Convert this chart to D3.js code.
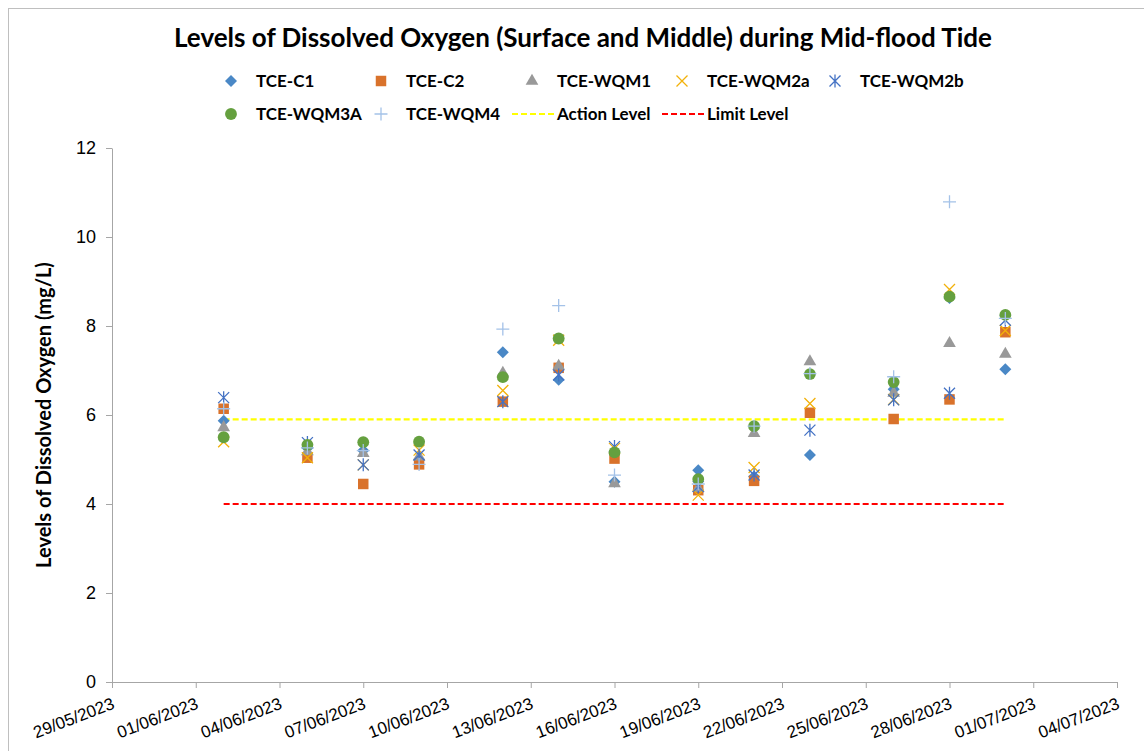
<!DOCTYPE html>
<html>
<head>
<meta charset="utf-8">
<script src="https://cdn.jsdelivr.net/npm/d3@7"></script>
<style>
  body { margin: 0; background: #fff; }
  svg { display: block; font-family: Lato, "Open Sans", sans-serif; }
</style>
</head>
<body>
<svg id="chart" width="1144" height="751"></svg>
<script>
// sampling dates
const dates = ["02/06/2023", "05/06/2023", "07/06/2023", "09/06/2023", "12/06/2023", "14/06/2023",
  "16/06/2023", "19/06/2023", "21/06/2023", "23/06/2023", "26/06/2023", "28/06/2023", "30/06/2023"];

// dissolved oxygen (mg/L) per station
const c1     = [5.87, 5.26, 5.20, 5.00, 7.41, 6.79, 4.50, 4.76, 4.62, 5.10, 6.58, 8.63, 7.03];
const c2     = [6.14, 5.04, 4.45, 4.89, 6.30, 7.06, 5.02, 4.31, 4.52, 6.05, 5.91, 6.35, 7.86];
const wqm1   = [5.72, 5.18, 5.14, 5.06, 6.94, 7.10, 4.46, 4.35, 5.59, 7.20, 6.49, 7.61, 7.37];
const wqm2a  = [5.40, 5.04, 4.88, 5.21, 6.55, 7.68, 5.25, 4.20, 4.82, 6.26, 6.35, 8.82, 7.90];
const wqm2b  = [6.39, 5.38, 4.88, 5.10, 6.30, 6.90, 5.29, 4.39, 4.65, 5.66, 6.34, 6.49, 8.13];
const wqm3a  = [5.50, 5.33, 5.39, 5.40, 6.85, 7.72, 5.16, 4.56, 5.75, 6.92, 6.74, 8.66, 8.25];
const wqm4   = [6.14, 5.26, 5.20, 4.89, 7.93, 8.46, 4.65, 4.45, 5.75, 6.93, 6.86, 10.79, 8.17];

const actionLevel = 5.9;
const limitLevel = 4;

const xDomain = ["29/05/2023", "04/07/2023"];
const yTicks = [0, 2, 4, 6, 8, 10, 12];

const seriesNames = ["TCE-C1", "TCE-C2", "TCE-WQM1", "TCE-WQM2a", "TCE-WQM2b", "TCE-WQM3A", "TCE-WQM4"];
const seriesValues = [c1, c2, wqm1, wqm2a, wqm2b, wqm3a, wqm4];

const parse = d3.timeParse("%d/%m/%Y");
const fmt = d3.timeFormat("%d/%m/%Y");

const svg = d3.select("#chart");

// outer chart border
svg.append("rect")
    .attr("x", 8.5).attr("y", 8.5)
    .attr("width", 1200).attr("height", 800)
    .style("fill", "none").style("stroke", "#bfbfbf").style("stroke-width", 1);

const plotLeft = 112, plotRight = 1117, plotTop = 148, plotBottom = 682;

const x = d3.scaleTime().domain(xDomain.map(parse)).range([plotLeft, plotRight]);
const y = d3.scaleLinear().domain([0, 12]).range([plotBottom, plotTop]);

// x ticks every 3 days starting at the domain start
const xTickVals = d3.timeDay.range(parse(xDomain[0]), d3.timeDay.offset(parse(xDomain[1]), 1), 3);

const xAxis = svg.append("g")
    .attr("transform", "translate(0," + plotBottom + ")")
    .call(d3.axisBottom(x).tickValues(xTickVals).tickFormat(fmt).tickSize(6).tickSizeOuter(0));
xAxis.selectAll(".domain, line").style("stroke", "#a6a6a6");
xAxis.selectAll("text")
    .style("font-size", "17px").style("fill", "#000")
    .attr("text-anchor", "end")
    .attr("dy", null).attr("y", null)
    .attr("transform", "translate(3,26) rotate(-21)");

const yAxis = svg.append("g")
    .attr("transform", "translate(" + plotLeft + ",0)")
    .call(d3.axisLeft(y).tickValues(yTicks).tickSize(6).tickSizeOuter(0));
yAxis.selectAll(".domain, line").style("stroke", "#a6a6a6");
yAxis.selectAll("text").style("font-size", "18px").style("fill", "#000").attr("x", -16);

// title
svg.append("text")
    .attr("x", 583).attr("y", 47)
    .attr("text-anchor", "middle")
    .style("font-size", "26px").style("font-weight", "bold")
    .text("Levels of Dissolved Oxygen (Surface and Middle) during Mid-flood Tide");

// y axis title
svg.append("text")
    .attr("transform", "translate(51," + ((plotTop + plotBottom) / 2) + ") rotate(-90)")
    .attr("text-anchor", "middle")
    .style("font-size", "20px").style("font-weight", "bold")
    .text("Levels of Dissolved Oxygen (mg/L)");

// reference lines
const firstDate = parse(dates[0]), lastDate = parse(dates[dates.length - 1]);
const refLine = d3.line().x(d => x(d[0])).y(d => y(d[1]));
svg.append("path")
    .datum([[firstDate, limitLevel], [lastDate, limitLevel]])
    .attr("d", refLine)
    .style("fill", "none").style("stroke", "#ff0000").style("stroke-width", 2.2)
    .style("stroke-dasharray", "6,3");
svg.append("path")
    .datum([[firstDate, actionLevel], [lastDate, actionLevel]])
    .attr("d", refLine)
    .style("fill", "none").style("stroke", "#ffff00").style("stroke-width", 2.2)
    .style("stroke-dasharray", "6,3");

// marker drawing
const diamondPath = "M0,-6L6,0L0,6L-6,0Z";
const crossPath = "M-5.5,-5.5L5.5,5.5M-5.5,5.5L5.5,-5.5";
const starPath = "M-5.5,-5.5L5.5,5.5M-5.5,5.5L5.5,-5.5M0,-6.5L0,6.5";
const plusPath = "M-6.5,0L6.5,0M0,-6.5L0,6.5";
const markers = [
  { type: "fill", sym: diamondPath, color: "#4a88c6" },
  { type: "fill", sym: d3.symbol(d3.symbolSquare, 110)(), color: "#d9722b" },
  { type: "fill", sym: d3.symbol(d3.symbolTriangle, 70)(), color: "#999999" },
  { type: "line", sym: crossPath, color: "#f2b10a" },
  { type: "line", sym: starPath, color: "#4472c4" },
  { type: "fill", sym: d3.symbol(d3.symbolCircle, 110)(), color: "#65a03f" },
  { type: "line", sym: plusPath, color: "#a4c2e8" }
];

function drawMarker(g, m) {
  const p = g.append("path").attr("d", m.sym);
  if (m.type === "fill") {
    p.style("fill", m.color).style("stroke", "none");
  } else {
    p.style("fill", "none").style("stroke", m.color).style("stroke-width", 1.3);
  }
  return p;
}

seriesValues.forEach((vals, i) => {
  const g = svg.append("g").attr("class", "series");
  vals.forEach((v, j) => {
    const mg = g.append("g")
        .attr("transform", "translate(" + x(parse(dates[j])) + "," + y(v) + ")");
    drawMarker(mg, markers[i]);
  });
});

// legend
const legendItems = seriesNames.map((n, i) => ({ name: n, marker: markers[i] }))
    .concat([{ name: "Action Level", dash: "#ffff00" }, { name: "Limit Level", dash: "#ff0000" }]);
const colX = [256, 406, 557, 707, 860];
const rowY = [81, 114];
legendItems.forEach((it, i) => {
  const cx = colX[i % 5], cy = rowY[Math.floor(i / 5)];
  const g = svg.append("g").attr("class", "legend");
  if (it.marker) {
    const mg = g.append("g").attr("transform", "translate(" + (cx - 25) + "," + cy + ")");
    drawMarker(mg, it.marker);
  } else {
    g.append("line")
        .attr("x1", cx - 45).attr("x2", cx - 2).attr("y1", cy).attr("y2", cy)
        .style("stroke", it.dash).style("stroke-width", 2.2).style("stroke-dasharray", "6,3");
  }
  g.append("text")
      .attr("x", cx).attr("y", cy + 6)
      .style("font-size", "17px").style("font-weight", "bold")
      .text(it.name);
});
</script>
</body>
</html>
